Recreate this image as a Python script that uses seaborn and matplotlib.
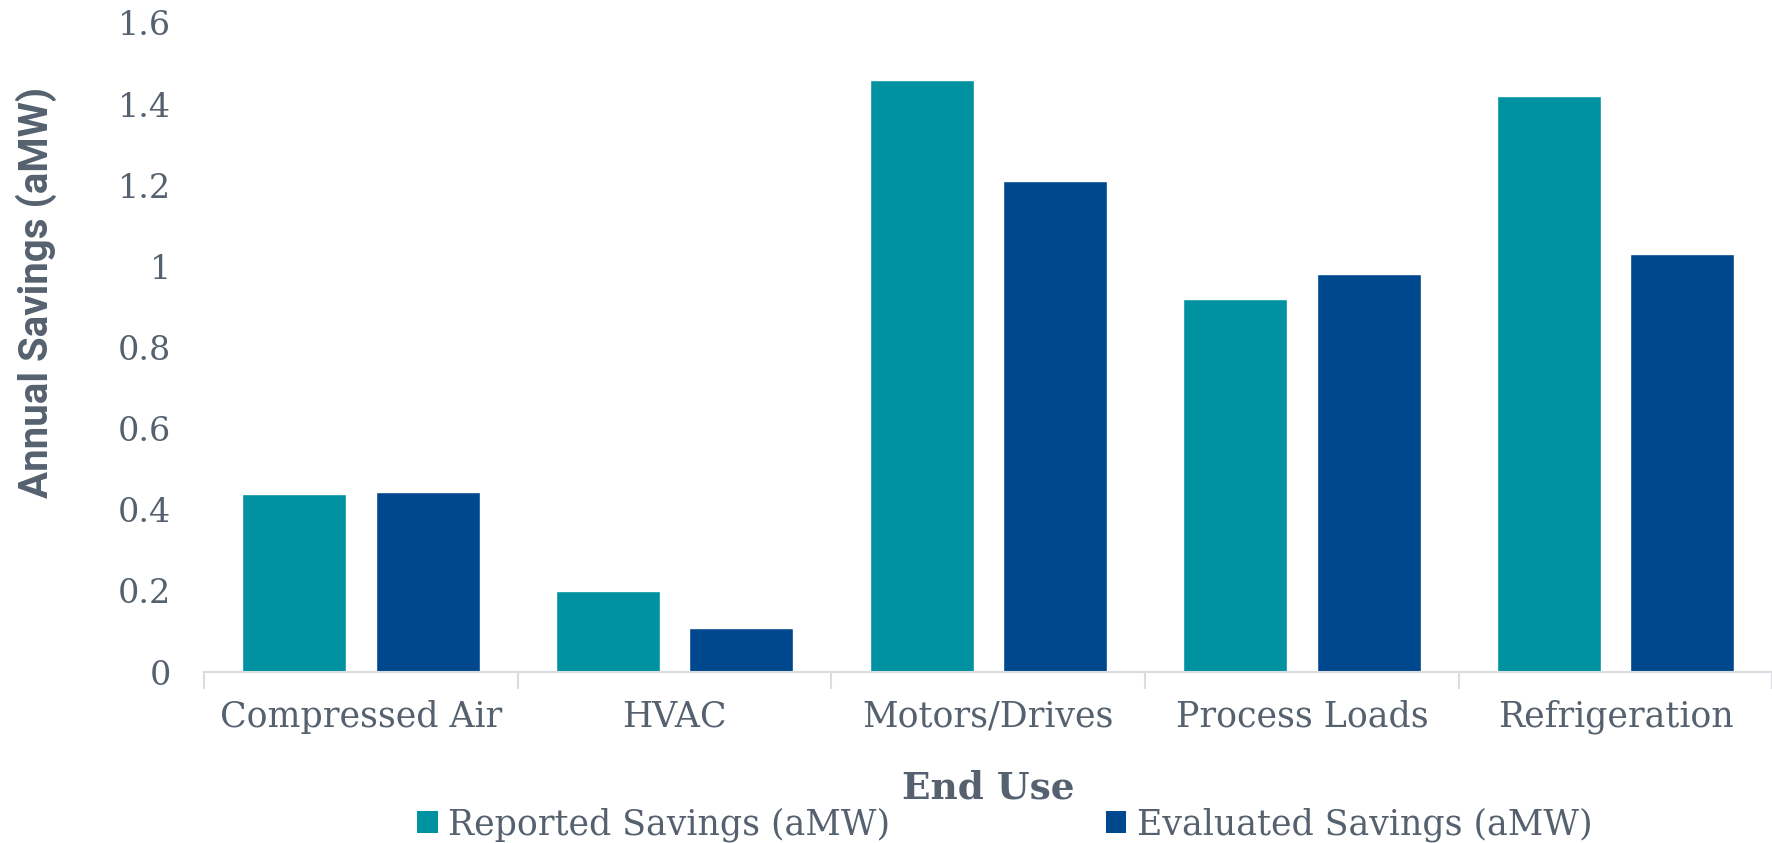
import pandas as pd
import matplotlib.pyplot as plt
import seaborn as sns
from matplotlib.patches import Patch

# data
end_uses = ['Compressed Air', 'HVAC', 'Motors/Drives', 'Process Loads', 'Refrigeration']
reported = [0.44, 0.20, 1.46, 0.92, 1.42]
evaluated = [0.445, 0.108, 1.21, 0.98, 1.03]
series = ['Reported Savings (aMW)', 'Evaluated Savings (aMW)']
colors = ['#0092A0', '#00488E']

text_col = '#56616F'
tick_font = ['DejaVu Serif']

df = pd.DataFrame({
    'End Use': end_uses * 2,
    'Savings': reported + evaluated,
    'Series': [series[0]] * len(end_uses) + [series[1]] * len(end_uses),
})

sns.set_style('white')
fig = plt.figure(figsize=(17.72, 8.43), dpi=100)
ax = fig.add_axes([0.1152, 0.2028, 0.885, 0.770])

sns.barplot(data=df, x='End Use', y='Savings', hue='Series', palette=colors,
            width=0.85, gap=0.22, saturation=1, ax=ax, legend=False)

ax.set_ylim(0, 1.6)
ax.set_xlim(-0.5, 4.46)
ax.set_yticks([0, 0.2, 0.4, 0.6, 0.8, 1.0, 1.2, 1.4, 1.6])
ax.set_yticklabels(['0', '0.2', '0.4', '0.6', '0.8', '1', '1.2', '1.4', '1.6'])

# spines: only a light baseline
for s in ['top', 'right', 'left']:
    ax.spines[s].set_visible(False)
ax.spines['bottom'].set_color('#D9DCE1')
ax.spines['bottom'].set_linewidth(1.5)

# category divider ticks
ax.set_xticks([i - 0.5 for i in range(len(end_uses) + 1)], minor=True)
ax.tick_params(axis='x', which='minor', length=12, width=1.5, color='#D9DCE1', bottom=True)
ax.tick_params(axis='x', which='major', length=0, pad=20, labelsize=25, labelcolor=text_col)
ax.tick_params(axis='y', length=0, pad=24, labelsize=24, labelcolor=text_col)
for lbl in ax.get_xticklabels() + ax.get_yticklabels():
    lbl.set_family(tick_font)

ax.set_xlabel('End Use', fontsize=27, fontweight='bold', color=text_col,
              family=['DejaVu Serif'], labelpad=25)
ax.set_ylabel('Annual Savings (aMW)', fontsize=29, fontweight='bold', color=text_col,
              family=['Liberation Sans Narrow', 'Roboto'])
ax.yaxis.set_label_coords(-0.094, 0.585)

handles = [Patch(facecolor=c, edgecolor='none') for c in colors]
fig.legend(handles, series, loc='center', bbox_to_anchor=(0.567, 0.022), ncol=2,
           frameon=False, labelcolor=text_col, prop={'family': tick_font, 'size': 25},
           handlelength=0.6, handleheight=0.6, handletextpad=0.3, columnspacing=6.2)

fig.savefig('out.png', dpi=100)
